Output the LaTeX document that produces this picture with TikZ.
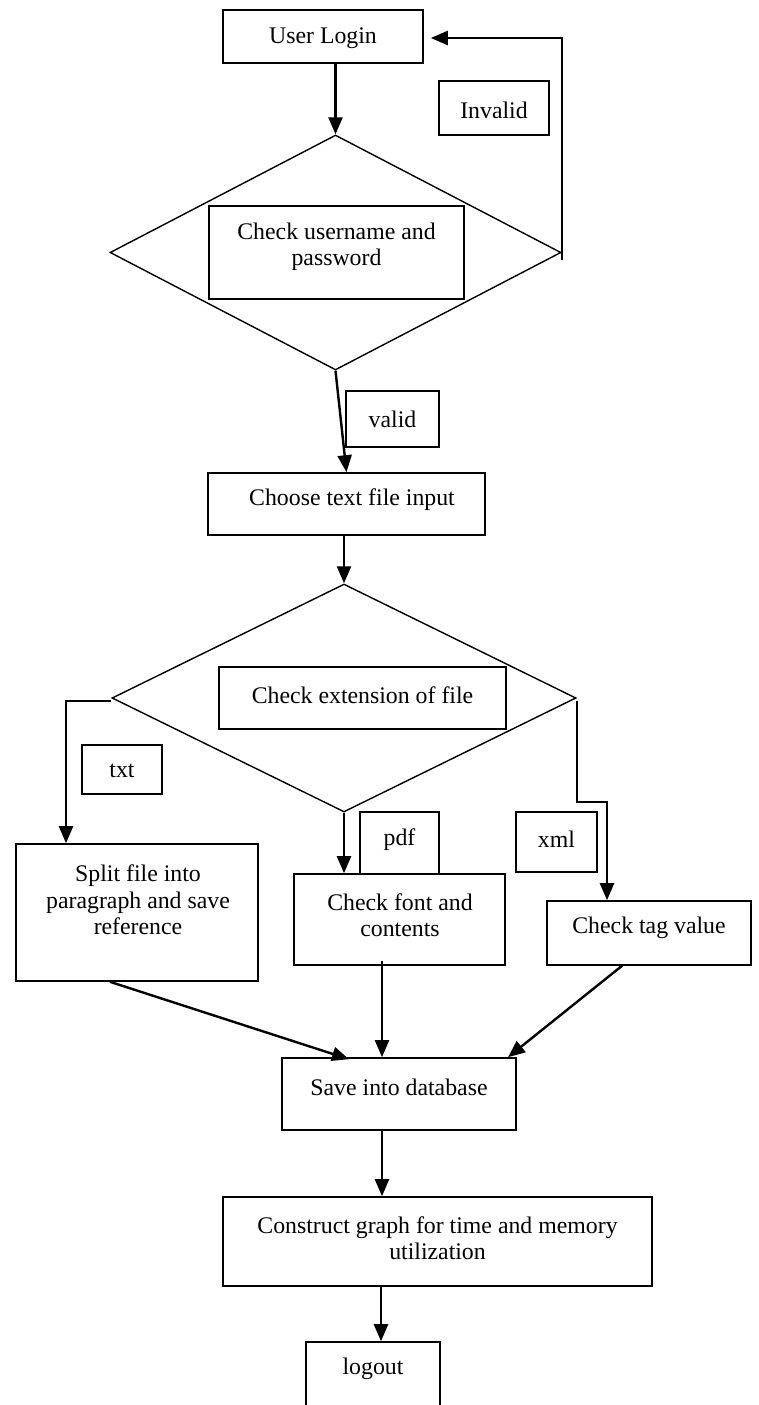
\documentclass[tikz,border=0pt]{standalone}
\usepackage{fontspec}
\setmainfont{Liberation Serif}
\usetikzlibrary{shapes.geometric,arrows.meta,calc}
\newcommand{\fcfont}{\fontsize{23.8pt}{26.5pt}\selectfont}
\tikzset{
  box/.style={draw, line width=1.6pt, inner sep=0pt, rectangle},
  dia/.style={draw, diamond, line width=1.4pt, inner sep=0pt},
  lbl/.style={inner sep=0pt, align=center, font=\fcfont},
  arr/.style={line width=2.4pt, -{Triangle[length=17pt,width=14pt]}},
}
\begin{document}
\begin{tikzpicture}[x=1pt,y=-1pt]
\clip (0,0) rectangle (758,1405);
\fill[white] (0,0) rectangle (758,1405);

% boxes
\node[box, minimum width=200pt, minimum height=53pt] (login) at (323,36.5) {};
\node[lbl] (login-t) at (323,38) {User Login};

\node[box, minimum width=110pt, minimum height=54pt] (invalid) at (494,108) {};
\node[lbl] (invalid-t) at (494,110) {Invalid};

\node[dia, minimum width=451pt, minimum height=235pt] (d1) at (335.5,252.5) {};
\node[box, minimum width=255pt, minimum height=93pt] (user) at (336.5,252.5) {};
\node[lbl] (user-t) at (336.5,247) {Check username and\\password};

\node[box, minimum width=93pt, minimum height=56pt] (valid) at (392.5,419) {};
\node[lbl] (valid-t) at (392.5,419) {valid};

\node[box, minimum width=277pt, minimum height=62pt] (choose) at (346.5,504) {};
\node[lbl] (choose-t) at (352,500) {Choose text file input};

\node[dia, minimum width=464pt, minimum height=228pt] (d2) at (344,698) {};
\node[box, minimum width=287pt, minimum height=62pt] (ext) at (362.5,698) {};
\node[lbl] (ext-t) at (362.5,695) {Check extension of file};

\node[box, minimum width=80pt, minimum height=49pt] (txt) at (122,769.5) {};
\node[lbl] (txt-t) at (122,771) {txt};

\node[box, minimum width=242pt, minimum height=137pt] (split) at (137,912.5) {};
\node[lbl] (split-t) at (138,900) {Split file into\\paragraph and save\\reference};

\node[box, minimum width=79pt, minimum height=62pt] (pdf) at (399.5,843) {};
\node[lbl] (pdf-t) at (399.5,840) {pdf};

\node[box, minimum width=211pt, minimum height=91pt] (font) at (399.5,919.5) {};
\node[lbl] (font-t) at (400,915) {Check font and\\contents};

\node[box, minimum width=81pt, minimum height=60pt] (xml) at (556.5,842) {};
\node[lbl] (xml-t) at (556.5,839) {xml};

\node[box, minimum width=204pt, minimum height=64pt] (tag) at (649,933) {};
\node[lbl] (tag-t) at (649,928) {Check tag value};

\node[box, minimum width=234pt, minimum height=72pt] (save) at (399,1094) {};
\node[lbl] (save-t) at (399,1087) {Save into database};

\node[box, minimum width=429pt, minimum height=89pt] (construct) at (437.5,1241.5) {};
\node[lbl] (construct-t) at (437.5,1238) {Construct graph for time and memory\\utilization};

\node[box, minimum width=134pt, minimum height=83pt] (logout) at (373,1383.5) {};
\node[lbl] (logout-t) at (373,1369) {logout};

% connectors
\coordinate (loopTop) at (562,38);
\coordinate (xmlBend) at (607,802);

\draw[arr] (d1.north |- login.south) -- (d1.north);
\draw[arr] ([yshift=-7pt]loopTop |- d1.east) -- (loopTop) -- ([xshift=7pt]login.east |- loopTop);
\draw[arr] (d1.south) -- (choose.north);
\draw[arr] (d2.north |- choose.south) -- (d2.north);
\draw[arr] ([yshift=-3pt]d2.west) -| ([xshift=-71pt]split.north);
\draw[arr] (d2.south) -- (d2.south |- font.north);
\draw[arr] ([yshift=-3pt]d2.east) |- (xmlBend) -- (xmlBend |- tag.north);
\draw[arr] ([xshift=-27pt]split.south) -- ([xshift=-50pt,yshift=-2pt]save.north);
\draw[arr] ([xshift=-17.5pt,yshift=5pt]font.south) -- ([xshift=-17pt]save.north);
\draw[arr] ([xshift=-27pt]tag.south) -- ([xshift=109pt]save.north);
\draw[arr] ([xshift=-17pt]save.south) -- ([xshift=-17pt]save.south |- construct.north);
\draw[arr] ([xshift=8pt]logout.north |- construct.south) -- ([xshift=8pt]logout.north);
\end{tikzpicture}
\end{document}
